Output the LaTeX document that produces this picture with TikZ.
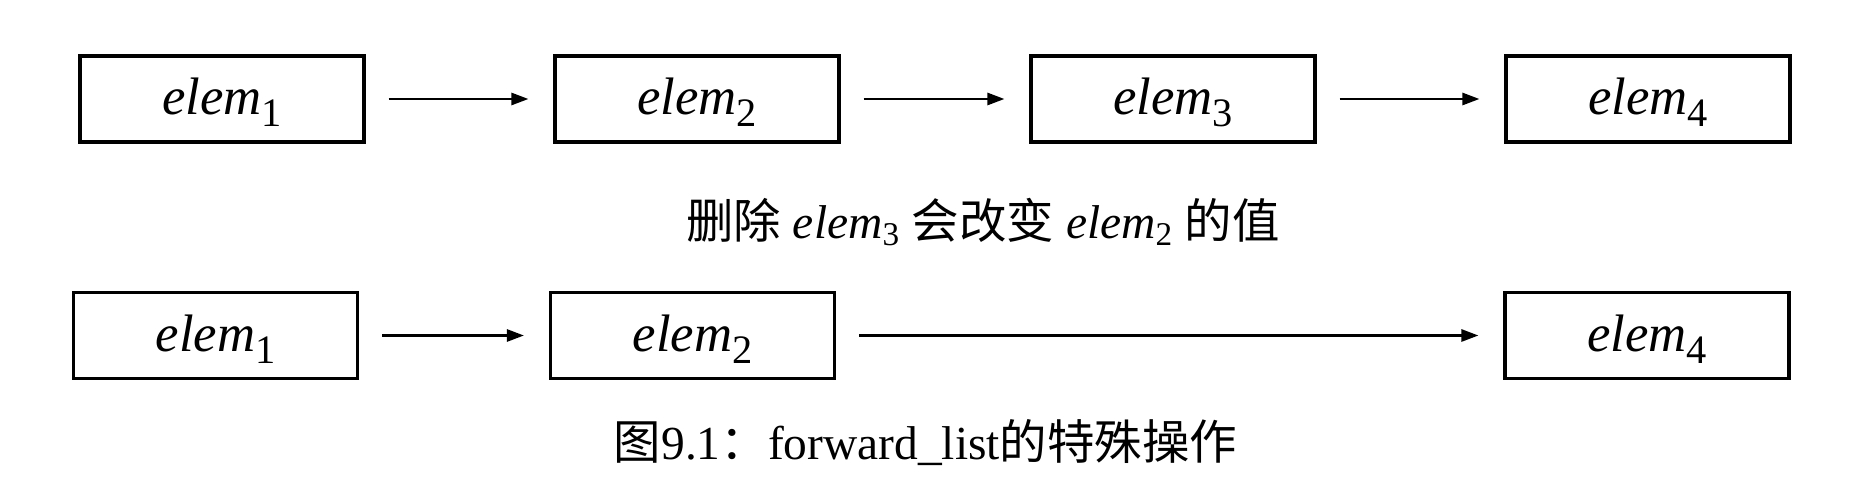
\documentclass[tikz,border=0pt]{standalone}
\usepackage{fontspec}
\usepackage{tikz}
\usetikzlibrary{arrows.meta}
\setmainfont{Liberation Serif}
\newfontfamily\cjk{Noto Sans CJK SC}
% element label inside a box
\newcommand{\boxelem}[1]{{\fontsize{30}{34}\selectfont\textit{elem}\raisebox{-0.22em}{\fontsize{23}{23}\selectfont #1}}}
\newcommand{\elem}[1]{\textit{elem}\textsubscript{#1}}

\begin{document}
\begin{tikzpicture}[x=0.02cm,y=-0.02cm,
  font=\fontsize{27}{32}\selectfont,
  cell/.style={draw,line width=1.8pt,minimum width=5.68cm,minimum height=1.72cm,
    inner sep=0pt,text height=0.86cm,text depth=0.22cm},
  link/.style={line width=1.5pt,-{Triangle[length=0.34cm,width=0.24cm]},
    shorten <=0.46cm,shorten >=0.5cm}]
  \useasboundingbox (0,0) rectangle (1867,489);
  % list before
  \node[cell] (a1) at (222,99)  {\boxelem{1}};
  \node[cell] (a2) at (697,99)  {\boxelem{2}};
  \node[cell] (a3) at (1173,99) {\boxelem{3}};
  \node[cell] (a4) at (1648,99) {\boxelem{4}};
  \draw[link] (a1) -- (a2);
  \draw[link] (a2) -- (a3);
  \draw[link] (a3) -- (a4);
  % note
  \node (note) at (983,222) {{\cjk 删除} \elem{3} {\cjk 会改变} \elem{2} {\cjk 的值}};
  % list after
  \node[cell] (b1) at (215.5,335.5) {\boxelem{1}};
  \node[cell] (b2) at (692.5,335.5) {\boxelem{2}};
  \node[cell] (b4) at (1647,335.5)  {\boxelem{4}};
  \draw[link] (b1) -- (b2);
  \draw[link] (b2) -- (b4);
  % caption
  \node (cap) at (925.5,443) {{\cjk 图}9.1{\cjk ：}forward\_list{\cjk 的特殊操作}};
\end{tikzpicture}
\end{document}
